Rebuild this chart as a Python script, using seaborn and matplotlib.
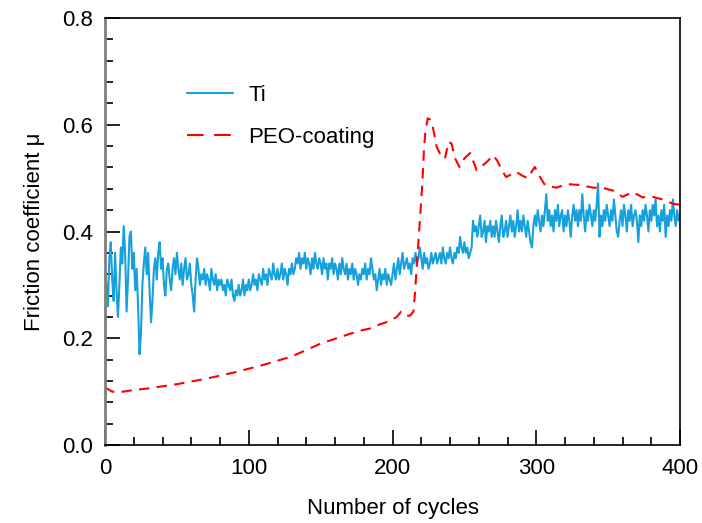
import numpy as np
import pandas as pd
import seaborn as sns
import matplotlib.pyplot as plt
from matplotlib.lines import Line2D
from matplotlib.ticker import MultipleLocator, FormatStrFormatter

# Ti: friction coefficient read for every cycle (0..400), 10 cycles per row
ti_cycles = np.arange(0, 401)
ti_mu = [
    0.33, 0.30, 0.26, 0.35, 0.38, 0.31, 0.27, 0.36, 0.29, 0.24,
    0.30, 0.37, 0.34, 0.41, 0.36, 0.25, 0.31, 0.39, 0.40, 0.33,
    0.36, 0.29, 0.33, 0.26, 0.17, 0.21, 0.30, 0.34, 0.37, 0.32,
    0.36, 0.29, 0.23, 0.27, 0.33, 0.35, 0.31, 0.36, 0.38, 0.33,
    0.35, 0.30, 0.28, 0.33, 0.34, 0.31, 0.29, 0.33, 0.35, 0.32,
    0.36, 0.33, 0.31, 0.34, 0.30, 0.33, 0.35, 0.31, 0.32, 0.34,
    0.30, 0.28, 0.25, 0.31, 0.35, 0.33, 0.30, 0.32, 0.31, 0.33,
    0.30, 0.32, 0.31, 0.29, 0.33, 0.31, 0.30, 0.32, 0.29, 0.31,
    0.30, 0.31, 0.29, 0.30, 0.28, 0.31, 0.30, 0.29, 0.31, 0.28,
    0.27, 0.29, 0.28, 0.30, 0.28, 0.29, 0.31, 0.28, 0.30, 0.29,
    0.31, 0.29, 0.30, 0.32, 0.30, 0.31, 0.29, 0.32, 0.31, 0.30,
    0.33, 0.31, 0.32, 0.30, 0.33, 0.32, 0.31, 0.34, 0.32, 0.31,
    0.33, 0.31, 0.32, 0.34, 0.31, 0.33, 0.32, 0.30, 0.33, 0.32,
    0.34, 0.32, 0.33, 0.35, 0.34, 0.36, 0.33, 0.35, 0.34, 0.36,
    0.33, 0.35, 0.34, 0.32, 0.35, 0.33, 0.36, 0.34, 0.33, 0.35,
    0.34, 0.32, 0.35, 0.33, 0.34, 0.31, 0.34, 0.33, 0.35, 0.32,
    0.34, 0.33, 0.31, 0.34, 0.32, 0.35, 0.33, 0.32, 0.34, 0.31,
    0.33, 0.32, 0.34, 0.31, 0.33, 0.32, 0.30, 0.32, 0.31, 0.33,
    0.32, 0.34, 0.31, 0.33, 0.32, 0.35, 0.33, 0.31, 0.32, 0.29,
    0.31, 0.33, 0.30, 0.32, 0.31, 0.33, 0.30, 0.32, 0.31, 0.30,
    0.32, 0.34, 0.31, 0.33, 0.35, 0.32, 0.34, 0.36, 0.33, 0.34,
    0.35, 0.33, 0.34, 0.32, 0.35, 0.34, 0.36, 0.34, 0.35, 0.37,
    0.35, 0.33, 0.36, 0.34, 0.35, 0.33, 0.34, 0.36, 0.34, 0.35,
    0.36, 0.34, 0.35, 0.36, 0.34, 0.37, 0.35, 0.34, 0.36, 0.35,
    0.37, 0.35, 0.34, 0.36, 0.35, 0.37, 0.36, 0.39, 0.37, 0.36,
    0.38, 0.36, 0.37, 0.35, 0.36, 0.37, 0.42, 0.40, 0.41, 0.39,
    0.41, 0.43, 0.39, 0.40, 0.42, 0.38, 0.41, 0.40, 0.42, 0.39,
    0.41, 0.39, 0.42, 0.40, 0.38, 0.41, 0.43, 0.39, 0.40, 0.42,
    0.39, 0.41, 0.43, 0.40, 0.42, 0.39, 0.41, 0.44, 0.40, 0.42,
    0.40, 0.43, 0.41, 0.39, 0.42, 0.40, 0.38, 0.37, 0.41, 0.43,
    0.41, 0.44, 0.42, 0.40, 0.43, 0.41, 0.44, 0.47, 0.42, 0.44,
    0.41, 0.43, 0.40, 0.44, 0.42, 0.45, 0.41, 0.43, 0.44, 0.40,
    0.43, 0.41, 0.44, 0.42, 0.39, 0.43, 0.45, 0.42, 0.44, 0.41,
    0.44, 0.42, 0.47, 0.43, 0.40, 0.44, 0.42, 0.45, 0.43, 0.41,
    0.44, 0.42, 0.45, 0.49, 0.39, 0.43, 0.41, 0.44, 0.42, 0.45,
    0.43, 0.41, 0.44, 0.42, 0.46, 0.43, 0.40, 0.39, 0.42, 0.44,
    0.41, 0.45, 0.43, 0.40, 0.44, 0.42, 0.45, 0.41, 0.43, 0.44,
    0.42, 0.38, 0.43, 0.41, 0.44, 0.42, 0.45, 0.43, 0.40, 0.44,
    0.42, 0.45, 0.43, 0.46, 0.41, 0.43, 0.40, 0.44, 0.42, 0.45,
    0.39, 0.43, 0.41, 0.44, 0.42, 0.46, 0.43, 0.41, 0.44, 0.42,
    0.43,
]

# PEO-coating: smoother curve with the jump near 215-225 cycles
peo_cycles = [
    0, 5, 10, 15, 20, 30, 40, 50, 60, 70, 80, 90, 100, 110, 120, 130, 140,
    150, 160, 170, 177, 184, 191, 198, 203, 206, 209, 212, 214.5, 215.5,
    216.5, 217.5, 218.5, 219.5, 220.5, 221.3, 222, 223, 224.5, 226, 228,
    230.7, 234, 236.5, 239, 241, 243.5, 246.5, 250, 254, 258.5, 262, 265.5,
    270, 273, 276, 279, 286, 290, 294, 299, 302, 306, 314, 321, 330, 340,
    346, 354, 360, 367, 374, 381, 388, 395, 400,
]
peo_mu = [
    0.108, 0.100, 0.099, 0.101, 0.103, 0.106, 0.110, 0.114, 0.119, 0.124,
    0.130, 0.136, 0.143, 0.150, 0.158, 0.166, 0.178, 0.190, 0.199, 0.208,
    0.214, 0.218, 0.226, 0.232, 0.240, 0.250, 0.243, 0.242, 0.250, 0.280,
    0.320, 0.360, 0.400, 0.440, 0.480, 0.520, 0.560, 0.590, 0.612, 0.610,
    0.596, 0.559, 0.540, 0.537, 0.568, 0.565, 0.537, 0.521, 0.537, 0.547,
    0.515, 0.522, 0.530, 0.543, 0.532, 0.515, 0.502, 0.512, 0.505, 0.500,
    0.521, 0.505, 0.487, 0.482, 0.489, 0.487, 0.482, 0.482, 0.476, 0.465,
    0.474, 0.464, 0.465, 0.460, 0.452, 0.450,
]

ti_df = pd.DataFrame({'cycles': ti_cycles, 'mu': ti_mu})
peo_df = pd.DataFrame({'cycles': peo_cycles, 'mu': peo_mu})

sns.set_style('white')
plt.rcParams['font.family'] = ['Liberation Sans', 'DejaVu Sans']
plt.rcParams['font.size'] = 16
plt.rcParams['text.color'] = 'black'
plt.rcParams['axes.labelcolor'] = 'black'
plt.rcParams['xtick.color'] = 'black'
plt.rcParams['ytick.color'] = 'black'

ti_color = '#16A0DC'
peo_color = '#FF0000'

fig = plt.figure(figsize=(7.02, 5.23), dpi=100)
ax = fig.add_axes([0.1496, 0.1491, 0.8191, 0.8165])

sns.lineplot(data=ti_df, x='cycles', y='mu', ax=ax, color=ti_color,
             linewidth=1.5, estimator=None)
sns.lineplot(data=peo_df, x='cycles', y='mu', ax=ax, color=peo_color,
             linewidth=1.5, estimator=None, linestyle=(0, (5, 3.5)))

ax.set_xlim(0, 400)
ax.set_ylim(0, 0.8)
ax.xaxis.set_major_locator(MultipleLocator(100))
ax.xaxis.set_minor_locator(MultipleLocator(20))
ax.yaxis.set_major_locator(MultipleLocator(0.2))
ax.yaxis.set_minor_locator(MultipleLocator(0.04))
ax.yaxis.set_major_formatter(FormatStrFormatter('%.1f'))
ax.tick_params(which='both', direction='in', bottom=True, left=True,
               top=False, right=False, color='black', width=1.2,
               labelsize=16, pad=9)
ax.tick_params(which='major', length=11)
ax.tick_params(which='minor', length=6)

for side in ['top', 'right', 'bottom']:
    ax.spines[side].set_color('black')
    ax.spines[side].set_linewidth(1.2)
ax.spines['left'].set_color('#7f7f7f')
ax.spines['left'].set_linewidth(2)

ax.set_xlabel('Number of cycles', fontsize=16, labelpad=14)
ax.set_ylabel('Friction coefficient μ', fontsize=16, labelpad=12)

handles = [
    Line2D([], [], color=ti_color, linewidth=1.5),
    Line2D([], [], color=peo_color, linewidth=1.5, linestyle=(0, (8, 5))),
]
ax.legend(handles, ['Ti', 'PEO-coating'], loc='upper left',
          bbox_to_anchor=(0.143, 0.843), frameon=False, fontsize=16,
          borderpad=0, borderaxespad=0, handlelength=2.07,
          handletextpad=0.68, labelspacing=0.95)

plt.savefig('out.png', dpi=100)
